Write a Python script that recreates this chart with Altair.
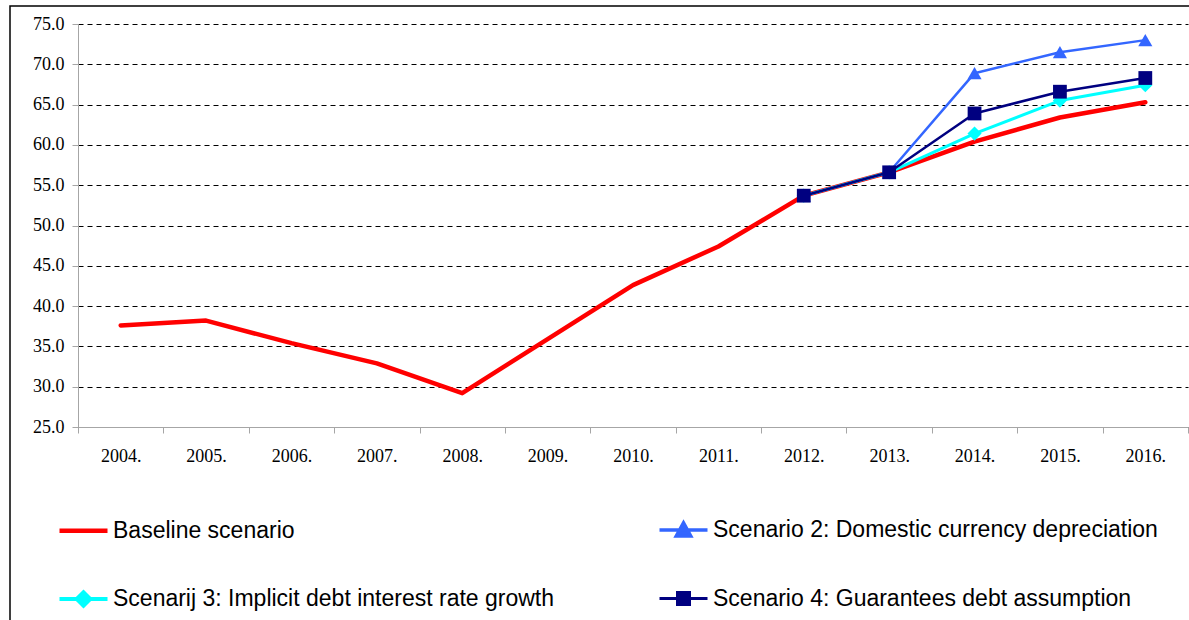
import altair as alt
import pandas as pd

years = ["2004.", "2005.", "2006.", "2007.", "2008.", "2009.", "2010.",
         "2011.", "2012.", "2013.", "2014.", "2015.", "2016."]

series_names = [
    "Baseline scenario",
    "Scenario 2: Domestic currency depreciation",
    "Scenarij 3: Implicit debt interest rate growth",
    "Scenario 4: Guarantees debt assumption",
]

baseline = [37.6, 38.2, 35.4, 32.9, 29.2, 35.9, 42.6, 47.4, 53.7, 56.6, 60.4, 63.4, 65.3]
scenario2 = [None] * 8 + [53.7, 56.6, 68.9, 71.5, 73.0]
scenario3 = [None] * 8 + [53.7, 56.6, 61.4, 65.5, 67.4]
scenario4 = [None] * 8 + [53.7, 56.6, 63.9, 66.6, 68.3]

colors = ["#FF0000", "#3366FF", "#00FFFF", "#000080"]
widths = [4.5, 2.5, 3, 2.5]
point_shapes = [None, "triangle-up", "diamond", "square"]
point_sizes = [0, 200, 200, 190]

# legend symbols: line segment plus marker (unit square -1..1)
legend_paths = [
    "M-1,0H1",
    "M-1,0H1M0,-0.30L0.30,0.24L-0.30,0.24Z",
    "M-1,0H1M-0.28,0L0,-0.28L0.28,0L0,0.28Z",
    "M-1,0H1M-0.25,-0.25H0.25V0.25H-0.25Z",
]
# legend fills columns first: this order gives rows (Baseline, Scenario 2), (Scenarij 3, Scenario 4)
legend_order = [0, 2, 1, 3]

values = [baseline, scenario2, scenario3, scenario4]
rows = []
for name, vals in zip(series_names, values):
    for yr, v in zip(years, vals):
        if v is not None:
            rows.append({"year": yr, "value": v, "series": name})
df = pd.DataFrame(rows)

x_enc = alt.X(
    "year:N",
    scale=alt.Scale(type="band", domain=years, paddingInner=0, paddingOuter=0),
    axis=alt.Axis(
        title=None, labelAngle=0, tickBand="extent", grid=False,
        domainColor="#A6A6A6", tickColor="#A6A6A6", tickSize=6,
        labelFont="Liberation Serif", labelFontSize=18, labelColor="black",
        labelPadding=14,
    ),
)
y_enc = alt.Y(
    "value:Q",
    scale=alt.Scale(domain=[25, 75], nice=False, zero=False),
    axis=alt.Axis(
        title=None, values=list(range(25, 80, 5)), format=".1f",
        grid=True, gridDash=[5, 4], gridColor="#000000", gridWidth=1,
        domainColor="#A6A6A6", tickColor="#A6A6A6", tickSize=6,
        labelFont="Liberation Serif", labelFontSize=18, labelColor="black",
        labelPadding=8,
    ),
)

base = alt.Chart(df)

frame = alt.Chart(pd.DataFrame({"a": [0]})).mark_rect(
    filled=False, stroke="black", strokeWidth=1.5
).encode(
    x=alt.value(-68), x2=alt.value(1300), y=alt.value(-18), y2=alt.value(900)
)

layers = [frame]
for name, col, w, shp, sz in zip(series_names, colors, widths, point_shapes, point_sizes):
    sub = base.transform_filter(alt.datum.series == name)
    layers.append(
        sub.mark_line(color=col, strokeWidth=w, strokeCap="round", strokeJoin="round")
        .encode(x=x_enc, y=y_enc)
    )
    if shp is not None:
        layers.append(
            sub.mark_point(shape=shp, size=sz, filled=True, color=col, opacity=1)
            .encode(x=x_enc, y=y_enc)
        )

leg = alt.Legend(
    title=None, orient="none", legendX=-21, legendY=480, columns=2,
    columnPadding=97, rowPadding=30, symbolSize=2304, labelOffset=3,
    labelFont="Liberation Sans", labelFontSize=23, labelColor="black",
    labelLimit=800, padding=0, symbolOpacity=1,
)

leg_names = [series_names[i] for i in legend_order]
leg_colors = [colors[i] for i in legend_order]
leg_paths = [legend_paths[i] for i in legend_order]
leg_widths = [widths[i] for i in legend_order]

legend_layer = base.transform_filter("false").mark_point(filled=True).encode(
    x=x_enc, y=y_enc,
    fill=alt.Fill("series:N", scale=alt.Scale(domain=leg_names, range=leg_colors), legend=leg),
    stroke=alt.Stroke("series:N", scale=alt.Scale(domain=leg_names, range=leg_colors), legend=leg),
    shape=alt.Shape("series:N", scale=alt.Scale(domain=leg_names, range=leg_paths), legend=leg),
    strokeWidth=alt.StrokeWidth("series:N", scale=alt.Scale(domain=leg_names, range=leg_widths), legend=leg),
)
layers.append(legend_layer)

chart = alt.layer(*layers).properties(
    width=1110, height=403,
    autosize=alt.AutoSizeParams(type="none"),
    padding={"left": 78, "top": 24, "right": 1, "bottom": 193},
    background="white",
).configure_view(stroke=None)

chart.save("out.html", embed_options={"renderer": "svg", "actions": False})
